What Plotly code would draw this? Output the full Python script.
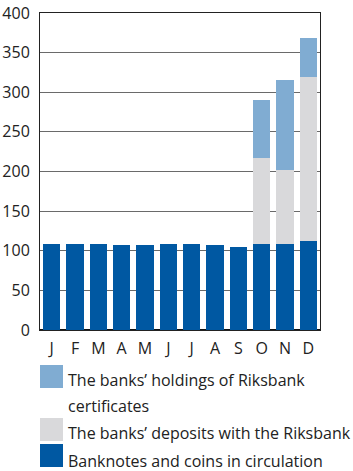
import plotly.graph_objects as go

# Monthly tick labels and stacked components (SEK billion)
months = ["J", "F", "M", "A", "M", "J", "J", "A", "S", "O", "N", "D"]
banknotes = [108, 108, 108, 107, 107, 108, 109, 107, 105, 108, 108, 112]
deposits = [0, 0, 0, 0, 0, 0, 0, 0, 0, 109, 94, 207]
certificates = [0, 0, 0, 0, 0, 0, 0, 0, 0, 73, 113, 49]

legend_names = [
    "The banks\u2019 holdings of Riksbank",
    "certificates",
    "The banks\u2019 deposits with the Riksbank",
    "Banknotes and coins in circulation",
]

C_DARK = "#0058a2"
C_GREY = "#d9d9db"
C_LIGHT = "#80acd2"
FONT = "Open Sans"
TXT = "#222222"

x = list(range(len(months)))

fig = go.Figure()
fig.add_trace(go.Bar(x=x, y=banknotes, marker=dict(color=C_DARK, line_width=0)))
fig.add_trace(go.Bar(x=x, y=deposits, marker=dict(color=C_GREY, line_width=0)))
fig.add_trace(go.Bar(x=x, y=certificates, marker=dict(color=C_LIGHT, line_width=0)))

W, H = 353, 471
L, R, T, B = 40, 33, 13, 141
pw, ph = W - L - R, H - T - B


def px_x(px):
    return (px - L) / pw


def px_y(py):
    return (H - B - py) / ph


# Custom legend: large square swatches with text to the right
swatches = [(C_LIGHT, 365, 388), (C_GREY, 418, 441), (C_DARK, 444, 467)]
shapes = []
for col, y0, y1 in swatches:
    shapes.append(dict(type="rect", xref="paper", yref="paper",
                       x0=px_x(40), x1=px_x(63), y0=px_y(y1), y1=px_y(y0),
                       fillcolor=col, line_width=0, layer="above"))

text_rows = [380, 406, 433, 461]
annotations = []
for name, py in zip(legend_names, text_rows):
    annotations.append(dict(text=name, xref="paper", yref="paper",
                            x=px_x(66), y=px_y(py), xanchor="left", yanchor="middle",
                            showarrow=False, font=dict(family=FONT, size=16, color=TXT)))

fig.update_layout(
    width=W, height=H,
    margin=dict(l=L, r=R, t=T, b=B, pad=0, autoexpand=False),
    barmode="stack", bargap=0.27,
    showlegend=False,
    plot_bgcolor="white", paper_bgcolor="white",
    font=dict(family=FONT, size=16, color=TXT),
    shapes=shapes, annotations=annotations,
)
fig.update_xaxes(
    tickmode="array", tickvals=x, ticktext=months,
    range=[-0.5, len(months) - 0.5], automargin=False,
    showline=True, linecolor="#222", linewidth=1, mirror=True,
    ticks="", showgrid=False, ticklabelstandoff=4,
)
fig.update_yaxes(
    range=[0, 400], dtick=50, tick0=0, automargin=False,
    showline=True, linecolor="#222", linewidth=1, mirror=True,
    showgrid=True, gridcolor="#6a6a6a", gridwidth=1,
    zeroline=True, zerolinecolor="#111", zerolinewidth=2,
    ticks="", ticklabelstandoff=6,
)

fig.write_html("out.html")
